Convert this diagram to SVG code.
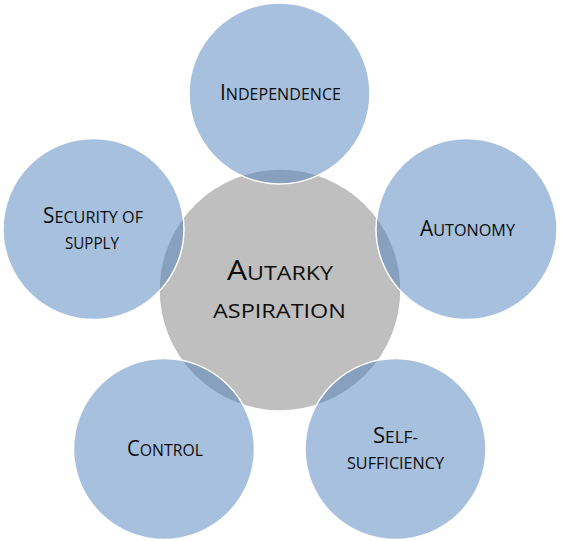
<svg xmlns="http://www.w3.org/2000/svg" width="561" height="541" viewBox="0 0 561 541">
<style>
.bg{fill:#ffffff}
.center{fill:#BFBFBF;stroke:#ffffff;stroke-width:1.5}
.leaf{fill:#4F81BD;fill-opacity:0.5;stroke:#ffffff;stroke-width:1.5}
.t{font-family:"Open Sans","Noto Sans","Liberation Sans",sans-serif;fill:#0d0d0d}
.b{font-size:21px}
.s{font-size:16.3px}
.B{font-size:28px}
.S{font-size:20.5px}
</style>
<rect class="bg" x="0" y="0" width="561" height="541"/>
<g id="node-autarky">
<circle class="center" cx="280" cy="290" r="121"/>
</g>
<g id="node-independence">
<circle class="leaf" cx="279.5" cy="93.5" r="90.5"/>
</g>
<g id="node-autonomy">
<circle class="leaf" cx="466.5" cy="229" r="90.5"/>
</g>
<g id="node-selfsufficiency">
<circle class="leaf" cx="395.5" cy="449" r="90.5"/>
</g>
<g id="node-control">
<circle class="leaf" cx="164" cy="449" r="90.5"/>
</g>
<g id="node-security">
<circle class="leaf" cx="93.5" cy="229" r="90.5"/>
</g>
<g id="labels">
<text class="t" x="227" y="280" textLength="106" lengthAdjust="spacingAndGlyphs"><tspan class="B">A</tspan><tspan class="S">UTARKY</tspan></text>
<text class="t S" x="213" y="318" textLength="133" lengthAdjust="spacingAndGlyphs">ASPIRATION</text>
<text class="t" x="220" y="100" textLength="121" lengthAdjust="spacingAndGlyphs"><tspan class="b">I</tspan><tspan class="s">NDEPENDENCE</tspan></text>
<text class="t" x="420" y="236" textLength="95" lengthAdjust="spacingAndGlyphs"><tspan class="b">A</tspan><tspan class="s">UTONOMY</tspan></text>
<text class="t" x="373" y="443" textLength="45" lengthAdjust="spacingAndGlyphs"><tspan class="b">S</tspan><tspan class="s">ELF-</tspan></text>
<text class="t s" x="347" y="469" textLength="97" lengthAdjust="spacingAndGlyphs">SUFFICIENCY</text>
<text class="t" x="127" y="456" textLength="76" lengthAdjust="spacingAndGlyphs"><tspan class="b">C</tspan><tspan class="s">ONTROL</tspan></text>
<text class="t" x="43" y="223" textLength="100" lengthAdjust="spacingAndGlyphs"><tspan class="b">S</tspan><tspan class="s">ECURITY OF</tspan></text>
<text class="t s" x="65" y="249" textLength="54" lengthAdjust="spacingAndGlyphs">SUPPLY</text>
</g>
</svg>
